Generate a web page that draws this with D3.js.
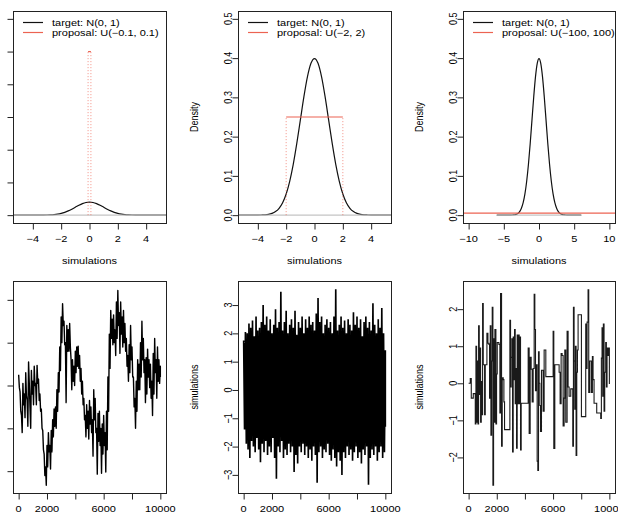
<!DOCTYPE html>
<html><head><meta charset="utf-8">
<script src="https://cdn.jsdelivr.net/npm/d3@7"></script>
<style>
html,body{margin:0;padding:0;background:#fff;}
svg{display:block;}
text{font-family:"Liberation Sans",Arial,Helvetica,sans-serif;font-size:11px;fill:#000;}
</style></head><body>
<svg id="chart" width="618" height="519"></svg>
<script>
// ---------- data ----------
const normX = d3.range(-6, 6.001, 0.25);
const normY = [0,0,0,0,0,0,0,0,
  0.0001,0.0004,0.0009,0.0020,0.0044,0.0091,0.0175,0.0317,0.0540,0.0863,0.1295,0.1826,0.2420,0.3011,0.3521,0.3867,
  0.3989,
  0.3867,0.3521,0.3011,0.2420,0.1826,0.1295,0.0863,0.0540,0.0317,0.0175,0.0091,0.0044,0.0020,0.0009,0.0004,0.0001,
  0,0,0,0,0,0,0,0];
const baselineX = [-6, 6];
const targetLabel = "target: N(0, 1)";
const propLabels = ["proposal: U(\u22120.1, 0.1)", "proposal: U(\u22122, 2)", "proposal: U(\u2212100, 100)"];
const propLow = [-0.1, -2, -100];
const propHigh = [0.1, 2, 100];
const propDensity = [5, 0.25, 0.005];

const densXDomain = [[-5.4, 5.4], [-5.4, 5.4], [-10.8, 10.8]];
const densYDomain = [[-0.24, 6.24], [-0.02, 0.52], [-0.02, 0.52]];
const densXTicks = [[-4, -2, 0, 2, 4], [-4, -2, 0, 2, 4], [-10, -5, 0, 5, 10]];
const densXTickLabels = [["\u22124","\u22122","0","2","4"], ["\u22124","\u22122","0","2","4"], ["\u221210","\u22125","0","5","10"]];
const densYTicks = [[0, 1, 2, 3, 4, 5, 6], [0, 0.1, 0.2, 0.3, 0.4, 0.5], [0, 0.1, 0.2, 0.3, 0.4, 0.5]];
const densYTickLabels = [null, ["0.0","0.1","0.2","0.3","0.4","0.5"], ["0.0","0.1","0.2","0.3","0.4","0.5"]];
const densYTitle = [null, "Density", "Density"];

const iterTicks = [0, 2000, 4000, 6000, 8000, 10000];
const iterTickLabels = ["0", "2000", "", "6000", "", "10000"];
const traceXDomain = [-399, 10400];
const traceYDomain = [[-2.51, 2.44], [-3.64, 3.85], [-2.96, 2.76]];
const traceYTicks = [[-2, -1, 0, 1, 2], [-3, -2, -1, 0, 1, 2, 3], [-2, -1, 0, 1, 2]];
const traceYTickLabels = [null, ["\u22123","\u22122","\u22121","0","1","2","3"], ["\u22122","\u22121","0","1","2"]];
const traceYTitle = [null, "simulations", "simulations"];

// chain 1: proposal U(-0.1, 0.1); local high / low of each 100-iteration block
const trace1Iter = d3.range(0, 10001, 100);
const trace1Hi = [0.25,-0.15,-0.70,0.05,-0.20,0.30,-0.35,0.55,-0.50,0.35,
  0.10,0.45,0.05,0.47,0.15,-0.20,-0.55,-1.05,-1.60,-1.90,
  -1.40,-1.10,-1.40,-1.05,-0.80,-0.55,-0.50,-0.10,0.30,0.90,
  1.60,1.91,1.50,1.00,1.40,1.30,1.45,0.60,0.60,0.45,
  0.80,0.90,0.92,0.70,0.40,0.10,-0.30,-0.70,-0.45,-0.60,
  -0.35,-0.50,-0.80,-0.10,-0.30,-1.00,-0.65,-0.60,-1.00,-0.90,
  -0.70,-1.10,-0.60,0.20,1.20,1.75,1.55,1.65,1.30,1.95,
  2.22,1.70,1.95,1.60,1.75,1.45,1.10,0.70,0.95,1.40,
  0.90,0.20,-0.30,0.10,0.60,0.50,1.00,1.50,1.10,0.60,
  0.65,0.85,0.60,0.50,0.10,0.75,1.10,0.60,0.90,0.60,
  0.45];
const trace1Lo = [-0.05,-0.60,-1.10,-0.45,-0.75,-0.25,-0.95,0.05,-1.00,-0.20,
  -0.45,0.00,-0.45,0.05,-0.35,-0.60,-1.00,-1.50,-2.10,-2.33,
  -1.90,-1.55,-1.95,-1.55,-1.20,-0.95,-1.00,-0.60,-0.15,0.35,
  1.00,1.40,0.95,-0.40,0.80,0.80,0.90,-0.10,0.10,0.00,
  0.30,0.45,0.40,0.10,-0.20,-0.45,-0.80,-1.20,-1.00,-1.25,
  -0.90,-1.10,-1.65,-0.80,-1.10,-2.07,-1.30,-1.40,-2.05,-1.60,
  -1.40,-2.02,-1.50,-0.60,0.40,1.10,0.95,1.00,0.70,1.10,
  1.40,0.75,1.20,0.90,1.00,0.80,0.45,0.10,0.30,0.60,
  0.20,-0.50,-1.00,-0.60,-0.10,-0.10,0.20,0.60,0.30,-0.40,
  -0.20,0.20,-0.05,-0.30,-0.70,-0.20,0.30,-0.30,0.10,0.05,
  0.20];

// chain 2: proposal U(-2, 2); local highs and lows every 125 iterations
const trace2Iter = d3.range(0, 10001, 125);
const trace2Hi = [1.75,2.05,2.0,2.35,2.2,2.45,1.9,2.6,2.1,2.2,
  2.4,3.0,2.3,2.6,2.1,2.5,2.0,2.3,2.85,2.2,
  2.4,3.47,2.1,2.4,2.8,2.0,2.3,2.5,2.2,2.8,
  1.95,2.4,2.2,2.6,2.0,2.5,2.2,2.6,2.3,2.4,
  2.1,2.7,3.25,2.4,2.6,2.0,2.3,2.5,2.2,2.4,
  2.0,2.6,3.56,2.1,2.3,2.6,2.2,2.45,2.0,2.5,
  2.3,2.1,2.75,2.3,2.6,2.2,2.5,1.9,2.4,2.6,
  2.2,2.4,2.1,3.06,2.3,2.0,2.5,2.2,2.9,2.0,
  1.4];
const trace2Lo = [-1.4,-1.9,-2.1,-2.4,-1.8,-2.0,-2.2,-1.7,-2.1,-2.55,
  -1.9,-2.2,-1.8,-2.3,-2.0,-2.2,-1.7,-2.4,-3.14,-2.0,
  -2.2,-1.8,-2.4,-2.1,-2.3,-1.9,-2.2,-2.0,-2.9,-2.3,
  -2.6,-2.0,-2.2,-1.9,-2.3,-2.0,-2.4,-2.1,-2.5,-2.0,
  -2.3,-3.28,-2.2,-2.0,-2.4,-2.1,-2.2,-1.9,-2.3,-2.5,
  -2.1,-2.4,-2.7,-2.2,-2.5,-3.0,-2.2,-2.4,-2.0,-2.3,
  -2.1,-2.5,-2.2,-2.0,-2.4,-2.2,-2.6,-2.1,-2.3,-2.0,
  -3.35,-2.4,-2.1,-2.3,-2.0,-2.5,-2.2,-2.0,-2.4,-2.2,
  -1.3];

// chain 3: proposal U(-100, 100); accepted moves (step function)
const trace3Iter = [0,118,189,331,473,520,567,615,662,709,756,804,851,898,946,993,1040,1135,1182,1300,
  1371,1442,1489,1537,1584,1631,1678,1726,1773,1820,1868,1938,1986,2033,2151,2222,2269,2340,2388,2459,
  2506,2553,2931,2979,3026,3073,3121,3168,3215,3262,3310,3357,3404,3451,3499,3546,3593,3640,3688,3735,
  4232,4302,4373,4444,4515,4586,4657,4704,4752,4823,4870,4917,4965,5012,5059,5107,5177,5295,5366,5485,
  6005,6052,6123,6430,6501,6572,6643,6714,6785,6832,6903,6997,7068,7139,7257,7399,7447,7494,7541,7588,
  7636,7683,7730,7778,8014,8321,8369,8416,8487,8534,8605,8723,8794,8841,8912,9101,9385,9432,9480,9527,
  9574,9622,9669,9740,9787,9835,9905,9953,10000];
const trace3Val = [0.00,0.13,-0.40,-0.28,-1.10,1.00,-1.05,0.60,-1.10,1.55,-0.30,0.95,-1.05,0.05,-0.85,2.15,0.50,-0.85,0.50,1.35,
  1.08,1.05,-0.40,1.55,-1.40,0.60,2.05,-2.75,1.20,-1.05,1.45,-1.10,0.25,1.10,1.05,-0.80,2.42,-1.70,0.15,0.10,
  -0.50,-1.25,1.70,-0.10,0.70,1.20,-1.85,1.25,0.10,1.45,-0.55,0.40,-1.75,1.30,-0.55,1.30,-0.55,1.25,-1.80,-0.54,
  0.95,-1.35,0.70,0.38,-0.50,0.40,2.40,1.45,-0.20,0.50,-2.10,-2.35,0.85,0.00,-0.60,-1.30,0.35,-0.75,0.90,0.18,
  1.40,-1.76,0.50,0.30,-0.55,0.80,0.75,-1.15,-0.40,0.90,-1.05,1.40,-0.10,-0.35,-0.15,-1.70,2.05,0.60,-0.70,1.00,
  -1.95,0.30,0.90,1.85,-0.90,1.60,0.40,1.65,2.52,-0.25,0.60,-0.25,0.72,0.10,-0.54,-0.80,-0.95,0.68,1.50,-0.35,
  1.60,-0.75,0.30,1.10,-0.10,0.95,0.75,0.95,-0.02];

// ---------- layout ----------
const colX = [[13, 166], [238, 391], [463, 615]];
const rowY = [[11, 223], [281, 493]];
const RED = "#ec6352";
const svg = d3.select("#chart");

function htext(x, y, str, anchor) {
  svg.append("text").attr("transform", `translate(${x},${y}) scale(1,0.82)`)
    .attr("text-anchor", anchor || "middle").attr("dy", "0.35em").text(str);
}
function vtext(x, y, str) {
  svg.append("text").attr("transform", `translate(${x},${y}) rotate(-90) scale(0.82,1)`)
    .attr("text-anchor", "middle").attr("dy", "0.35em").text(str);
}

function panel(col, row, xDomain, yDomain, xTicks, xLabels, yTicks, yLabels, yTitle, xTitle) {
  const [x0, x1] = colX[col], [y0, y1] = rowY[row];
  const x = d3.scaleLinear().domain(xDomain).range([x0, x1]);
  const y = d3.scaleLinear().domain(yDomain).range([y1, y0]);
  const id = `clip${row}${col}`;
  svg.append("clipPath").attr("id", id).append("rect")
    .attr("x", x0).attr("y", y0).attr("width", x1 - x0).attr("height", y1 - y0);
  const plot = svg.append("g").attr("clip-path", `url(#${id})`);
  const gx = svg.append("g").attr("transform", `translate(0,${y1 + 0.5})`)
    .call(d3.axisBottom(x).tickValues(xTicks).tickSize(6).tickSizeOuter(0).tickFormat(""));
  const gy = svg.append("g").attr("transform", `translate(${x0 + 0.5},0)`)
    .call(d3.axisLeft(y).tickValues(yTicks).tickSize(6).tickSizeOuter(0).tickFormat(""));
  [gx, gy].forEach(g => { g.select(".domain").remove(); g.selectAll("line").attr("stroke", "#222"); });
  xTicks.forEach((v, i) => { if (xLabels[i]) htext(x(v), y1 + 16, xLabels[i]); });
  if (yLabels) yTicks.forEach((v, i) => vtext(x0 - 10, y(v), yLabels[i]));
  if (yTitle) vtext(x0 - 44, (y0 + y1) / 2, yTitle);
  if (xTitle) htext((x0 + x1) / 2, y1 + 38, xTitle);
  return { x, y, plot, x0, x1, y0, y1 };
}
function box(p) {
  svg.append("rect").attr("x", p.x0 + 0.5).attr("y", p.y0 + 0.5).attr("width", p.x1 - p.x0).attr("height", p.y1 - p.y0)
    .attr("fill", "none").attr("stroke", "#222").attr("stroke-width", 1);
}

// ---------- top row: densities ----------
for (let c = 0; c < 3; c++) {
  const p = panel(c, 0, densXDomain[c], densYDomain[c], densXTicks[c], densXTickLabels[c],
    densYTicks[c], densYTickLabels[c], densYTitle[c], "simulations");
  const line = d3.line().x((d, i) => p.x(normX[i])).y(d => p.y(d)).curve(d3.curveMonotoneX);
  p.plot.append("path").attr("d", line(normY)).attr("fill", "none").attr("stroke", "#111").attr("stroke-width", 1.2);
  p.plot.append("line").attr("x1", p.x(baselineX[0])).attr("x2", p.x(baselineX[1]))
    .attr("y1", p.y(0)).attr("y2", p.y(0)).attr("stroke", "#c4c4c4").attr("stroke-width", 1.2);
  [propLow[c], propHigh[c]].forEach(v => {
    p.plot.append("line").attr("x1", p.x(v)).attr("x2", p.x(v)).attr("y1", p.y(0)).attr("y2", p.y(propDensity[c]))
      .attr("stroke", RED).attr("stroke-opacity", 0.7).attr("stroke-width", 1).attr("stroke-dasharray", "1,2");
  });
  p.plot.append("line").attr("x1", p.x(propLow[c])).attr("x2", p.x(propHigh[c]))
    .attr("y1", p.y(propDensity[c])).attr("y2", p.y(propDensity[c]))
    .attr("stroke", RED).attr("stroke-width", 1.2);
  box(p);
  const lx = p.x0 + 10;
  svg.append("line").attr("x1", lx).attr("x2", lx + 20).attr("y1", 22.5).attr("y2", 22.5).attr("stroke", "#111").attr("stroke-width", 1.2);
  svg.append("line").attr("x1", lx).attr("x2", lx + 20).attr("y1", 32.5).attr("y2", 32.5).attr("stroke", RED).attr("stroke-width", 1.2);
  htext(lx + 29, 22.5, targetLabel, "start");
  htext(lx + 29, 33, propLabels[c], "start");
}

// ---------- bottom row: traces ----------
{
  const p = panel(0, 1, traceXDomain, traceYDomain[0], iterTicks, iterTickLabels, traceYTicks[0], traceYTickLabels[0], traceYTitle[0], null);
  const pts = [];
  trace1Iter.forEach((it, i) => {
    pts.push([it, trace1Hi[i]]);
    pts.push([Math.min(it + 50, 10000), trace1Lo[i]]);
  });
  const line = d3.line().x(d => p.x(d[0])).y(d => p.y(d[1]));
  p.plot.append("path").attr("d", line(pts)).attr("fill", "none").attr("stroke", "#000").attr("stroke-width", 1.4).attr("stroke-linejoin", "round");
  box(p);
}
{
  const p = panel(1, 1, traceXDomain, traceYDomain[1], iterTicks, iterTickLabels, traceYTicks[1], traceYTickLabels[1], traceYTitle[1], null);
  const pts = [];
  trace2Iter.forEach((it, i) => {
    pts.push([it, trace2Hi[i]]);
    pts.push([Math.min(it + 62, 10000), trace2Lo[i]]);
  });
  const line = d3.line().x(d => p.x(d[0])).y(d => p.y(d[1]));
  p.plot.append("path").attr("d", line(pts)).attr("fill", "none").attr("stroke", "#000").attr("stroke-width", 1.65);
  box(p);
}
{
  const p = panel(2, 1, traceXDomain, traceYDomain[2], iterTicks, iterTickLabels, traceYTicks[2], traceYTickLabels[2], traceYTitle[2], null);
  const line = d3.line().x((d, i) => p.x(trace3Iter[i])).y(d => p.y(d)).curve(d3.curveStepAfter);
  p.plot.append("path").attr("d", line(trace3Val)).attr("fill", "none").attr("stroke", "#1a1a1a").attr("stroke-width", 1.1);
  box(p);
}
</script></body></html>
